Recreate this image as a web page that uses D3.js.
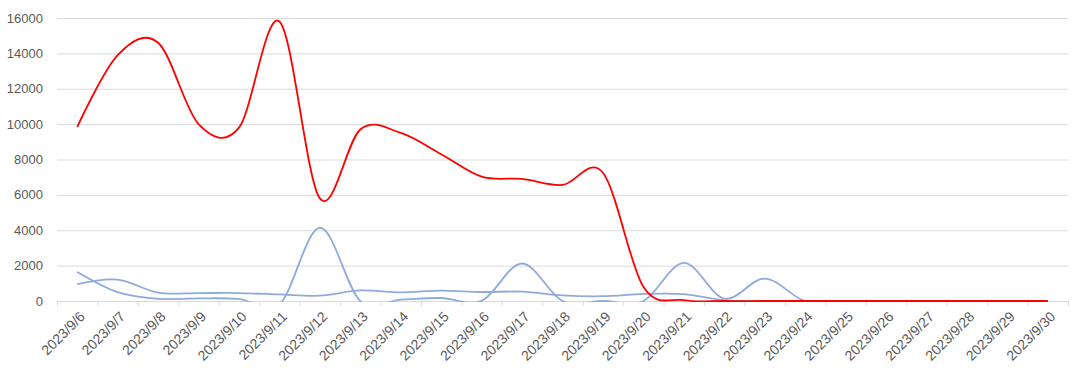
<!DOCTYPE html>
<html>
<head>
<meta charset="utf-8">
<script src="https://cdn.jsdelivr.net/npm/d3@7"></script>
<style>
  body { margin: 0; background: #fff; }
  text { font-family: "Liberation Sans", Arial, sans-serif; fill: #595959; }
</style>
</head>
<body>
<div id="chart"></div>
<script>
const width = 1080,
      height = 377;

const margin = {top: 18, right: 12, bottom: 76, left: 57};

// data
const dates = ["2023/9/6", "2023/9/7", "2023/9/8", "2023/9/9", "2023/9/10", "2023/9/11", "2023/9/12",
  "2023/9/13", "2023/9/14", "2023/9/15", "2023/9/16", "2023/9/17", "2023/9/18", "2023/9/19",
  "2023/9/20", "2023/9/21", "2023/9/22", "2023/9/23", "2023/9/24", "2023/9/25", "2023/9/26",
  "2023/9/27", "2023/9/28", "2023/9/29", "2023/9/30"];
const redValues = [9850, 13900, 14600, 10000, 9800, 15800, 5800, 9700, 9500, 8300, 7030, 6900, 6560, 7250,
  800, 50, 0, 0, 0, 0, 0, 0, 0, 0, 0];
const blueA = [1640, 500, 120, 150, 120, -200, 4140, 0, 80, 170, 10, 2120, 0, 0,
  0, 2150, 130, 1270, 0, 0, 0, 0, 0, 0, 0];
const blueB = [950, 1210, 470, 450, 450, 370, 300, 600, 490, 590, 510, 530, 320, 270,
  400, 390, 40, 0, 0, 0, 0, 0, 0, 0, 0];
const yTicks = [0, 2000, 4000, 6000, 8000, 10000, 12000, 14000, 16000];

const svg = d3.select("#chart")
  .append("svg")
  .attr("width", width)
  .attr("height", height);

const x = d3.scaleBand()
  .domain(dates)
  .range([margin.left, width - margin.right]);

const y = d3.scaleLinear()
  .domain([0, 16000])
  .range([height - margin.bottom, margin.top]);

// gridlines
svg.append("g")
  .selectAll("line")
  .data(yTicks)
  .join("line")
  .attr("x1", margin.left)
  .attr("x2", width - margin.right)
  .attr("y1", d => y(d) + 0.5)
  .attr("y2", d => y(d) + 0.5)
  .attr("stroke", "#d9d9d9")
  .attr("stroke-width", 1);

// y labels
svg.append("g")
  .selectAll("text")
  .data(yTicks)
  .join("text")
  .attr("x", margin.left - 14)
  .attr("y", d => y(d))
  .attr("dy", "0.35em")
  .attr("text-anchor", "end")
  .style("font-size", "13px")
  .text(d => d);

// x tick marks at band edges
const edges = dates.map(d => x(d)).concat([x.range()[1]]);
svg.append("g")
  .selectAll("line")
  .data(edges)
  .join("line")
  .attr("x1", d => d + 0.5)
  .attr("x2", d => d + 0.5)
  .attr("y1", y(0))
  .attr("y2", y(0) + 5)
  .attr("stroke", "#d9d9d9");

// x labels
svg.append("g")
  .selectAll("text")
  .data(dates)
  .join("text")
  .attr("text-anchor", "end")
  .attr("transform", d => `translate(${x(d) + x.bandwidth() / 2 + 5},${y(0) + 13}) rotate(-45)`)
  .attr("dy", "0.35em")
  .style("font-size", "14px")
  .text(d => d);

// clip lines to the plot area
svg.append("clipPath")
  .attr("id", "plot")
  .append("rect")
  .attr("x", margin.left)
  .attr("y", 0)
  .attr("width", width - margin.left - margin.right)
  .attr("height", y(0) + 1);

const line = d3.line()
  .x((d, i) => x(dates[i]) + x.bandwidth() / 2)
  .y(d => y(d))
  .curve(d3.curveCatmullRom.alpha(0));

const series = [
  {values: blueA, color: "#8faadc"},
  {values: blueB, color: "#8faadc"},
  {values: redValues, color: "#ff0000"}
];

svg.append("g")
  .attr("clip-path", "url(#plot)")
  .selectAll("path")
  .data(series)
  .join("path")
  .attr("d", d => line(d.values))
  .attr("fill", "none")
  .attr("stroke", d => d.color)
  .attr("stroke-width", 1.8);
</script>
</body>
</html>
